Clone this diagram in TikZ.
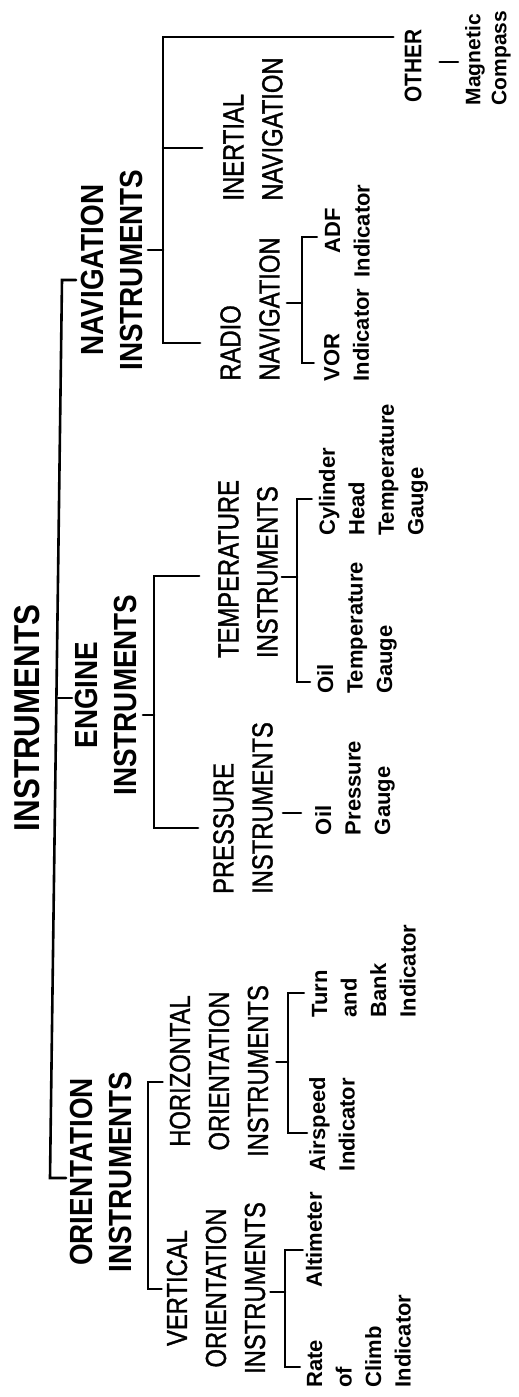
\documentclass[tikz,border=0pt]{standalone}
\usepackage{fontspec}
\setmainfont{Liberation Sans}
\newfontfamily\topfont[FakeStretch=0.87]{Liberation Sans Bold}
\newfontfamily\midfont[FakeStretch=0.82,FakeBold=1.2]{Liberation Sans}
\newfontfamily\leaffont{Liberation Sans Bold}
\tikzset{
  lbl/.style={rotate=90, inner sep=0pt, anchor=center, text=black},
  rootl/.style={lbl, font=\topfont\fontsize{36}{40}\selectfont},
  topl/.style={lbl, align=center, font=\topfont\fontsize{32}{39}\selectfont},
  otherl/.style={lbl, font=\topfont\fontsize{24}{28}\selectfont},
  midl/.style={lbl, font=\midfont\fontsize{29}{39}\selectfont},
  leafl/.style={lbl, font=\leaffont\fontsize{22}{29.5}\selectfont},
  conn/.style={line width=2.6pt, line cap=round, line join=miter, black},
}
\begin{document}
\begin{tikzpicture}[x=1pt,y=1pt]
\fill[white] (0,0) rectangle (519,-1397);
\useasboundingbox (0,0) rectangle (519,-1397);

% root and top level
\node[rootl] (root) at (27.5,-718) {INSTRUMENTS};
\node[topl] (nav) at (112,-270) {NAVIGATION\\INSTRUMENTS};
\node[topl] (eng) at (106,-695) {ENGINE\\INSTRUMENTS};
\node[topl] (ori) at (101,-1172) {ORIENTATION\\INSTRUMENTS};
\node[otherl] (other) at (413,-66) {OTHER};

% mid level
\node[midl, align=center] (vert) at (216,-1288) {VERTICAL\\ORIENTATION\\INSTRUMENTS};
\node[midl, align=center] (horiz) at (219,-1071) {HORIZONTAL\\ORIENTATION\\INSTRUMENTS};
\node[midl, align=left] (pres) at (243,-808) {PRESSURE\\INSTRUMENTS};
\node[midl, align=left] (temp) at (248,-569) {TEMPERATURE\\INSTRUMENTS};
\node[midl, align=left] (radio) at (250,-309) {RADIO\\NAVIGATION};
\node[midl, align=left] (inert) at (253,-129) {INERTIAL\\NAVIGATION};

% leaves
\node[leafl, align=left] (rate) at (359,-1341) {Rate\\of\\Climb\\Indicator};
\node[leafl] (alti) at (314,-1240) {Altimeter};
\node[leafl, align=left] (airsp) at (332,-1124) {Airspeed\\Indicator};
\node[leafl, align=left] (turn) at (364,-971) {Turn\\and\\Bank\\Indicator};
\node[leafl, align=left] (oilp) at (355,-788) {Oil\\Pressure\\Gauge};
\node[leafl, align=left] (oilt) at (357,-628) {Oil\\Temperature\\Gauge};
\node[leafl, align=left] (cyl) at (373.5,-470) {Cylinder\\Head\\Temperature\\Gauge};
\node[leafl, align=left] (vor) at (346.5,-335) {VOR\\Indicator};
\node[leafl, align=center] (adf) at (347.5,-231) {ADF\\Indicator};
\node[leafl, align=left, font=\leaffont\fontsize{21}{26}\selectfont] (mag) at (488,-58) {Magnetic\\Compass};

% root bracket
\coordinate (r1) at (62,-280);
\coordinate (r2) at (58,-698);
\coordinate (r3) at (50,-1178);
\draw[conn, shorten <=5pt, shorten >=4pt] (nav.north |- r1) -- (r1) -- (r3) -- (ori.north |- r3);
\draw[conn, shorten >=3pt] (r2) -- (eng.north |- r2);

% navigation bracket
\coordinate (n1) at (163,-37);
\coordinate (n2) at (163,-343);
\coordinate (nc) at (163,-250);
\coordinate (ni) at (163,-148);
\draw[conn, shorten <=11pt, shorten >=20pt] (other.north |- n1) -- (n1) -- (n2) -- (radio.north |- n2);
\draw[conn, shorten >=21pt] (ni) -- (inert.north |- ni);
\draw[conn, shorten <=5pt] (nav.south |- nc) -- (nc);

% engine bracket
\coordinate (e1) at (154,-576);
\coordinate (e2) at (154,-828);
\coordinate (ec) at (154,-715);
\draw[conn, shorten <=19pt, shorten >=15pt] (temp.north |- e1) -- (e1) -- (e2) -- (pres.north |- e2);
\draw[conn, shorten <=6pt] (eng.south |- ec) -- (ec);

% orientation bracket
\coordinate (o1) at (148,-1082);
\coordinate (o2) at (148,-1289);
\draw[conn, shorten <=7pt, shorten >=5pt] (horiz.north |- o1) -- (o1) -- (o2) -- (vert.north |- o2);

% vertical orientation leaves
\coordinate (v1) at (285,-1250);
\coordinate (v2) at (285,-1367);
\coordinate (vc) at (285,-1292);
\draw[conn, shorten <=3pt, shorten >=7pt] (alti.north |- v1) -- (v1) -- (v2) -- (rate.north |- v2);
\draw[conn, shorten <=5pt] (vert.south |- vc) -- (vc);

% horizontal orientation leaves
\coordinate (h1) at (288,-993);
\coordinate (h2) at (288,-1133);
\coordinate (hc) at (288,-1062);
\draw[conn, shorten <=8pt, shorten >=2pt] (turn.north |- h1) -- (h1) -- (h2) -- (airsp.north |- h2);
\draw[conn, shorten <=8pt] (horiz.south |- hc) -- (hc);

% pressure leaf
\coordinate (pc) at (293,-813);
\draw[conn, shorten <=10pt, shorten >=14pt] (pres.south |- pc) -- (oilp.north |- pc);

% temperature leaves
\coordinate (t1) at (297,-499);
\coordinate (t2) at (297,-682);
\coordinate (tc) at (297,-577);
\draw[conn, shorten <=7pt, shorten >=7pt] (cyl.north |- t1) -- (t1) -- (t2) -- (oilt.north |- t2);
\draw[conn, shorten <=4pt] (temp.south |- tc) -- (tc);

% radio leaves
\coordinate (a1) at (302,-237);
\coordinate (a2) at (302,-363);
\coordinate (ac) at (302,-303);
\draw[conn, shorten <=8pt, shorten >=10pt] (adf.north |- a1) -- (a1) -- (a2) -- (vor.north |- a2);
\draw[conn, shorten <=7pt] (radio.south |- ac) -- (ac);

% other leaf
\coordinate (mc) at (450,-62);
\draw[conn, shorten <=18pt, shorten >=7pt] (other.south |- mc) -- (mag.north |- mc);
\end{tikzpicture}
\end{document}
